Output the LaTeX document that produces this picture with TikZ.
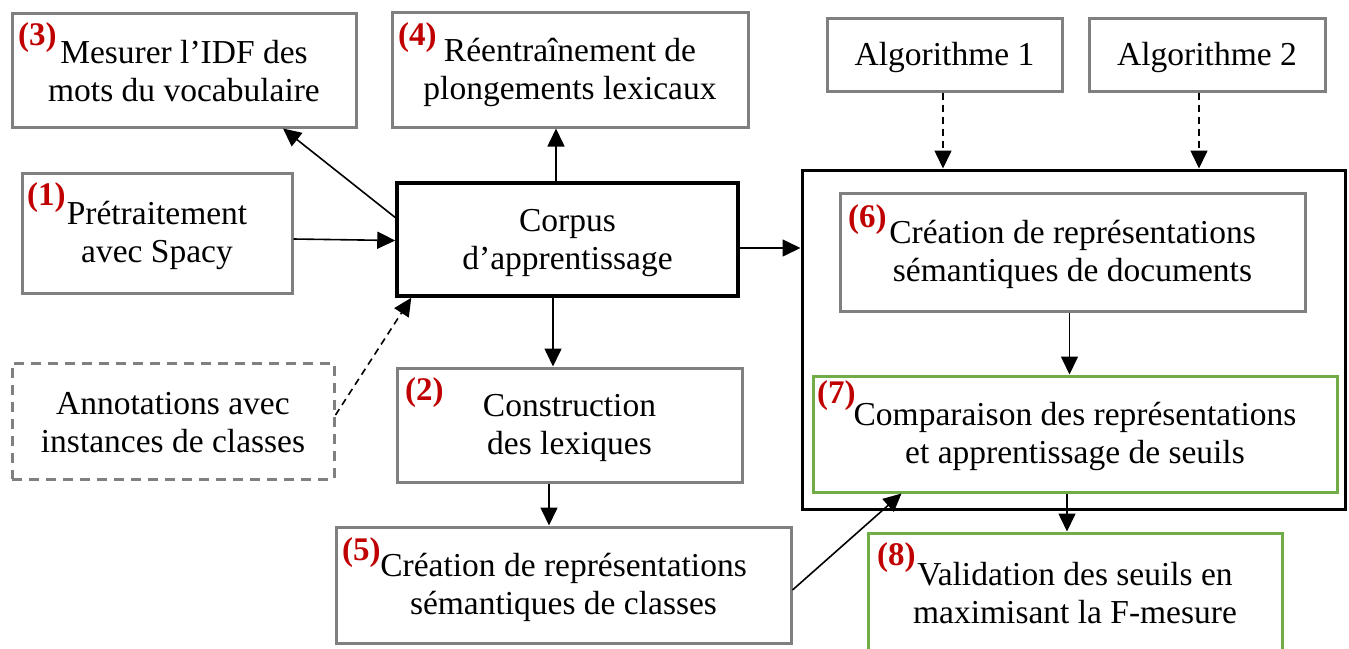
\documentclass[tikz,border=0pt]{standalone}
\usepackage{fontspec}
\setmainfont{Liberation Serif}
\usetikzlibrary{arrows.meta}
\definecolor{boxgray}{HTML}{808080}
\definecolor{labred}{HTML}{C00000}
\definecolor{boxgreen}{HTML}{70AD47}
\newcommand\ls{\rule[-5pt]{0pt}{34pt}}
\begin{document}
\begin{tikzpicture}[x=1pt,y=-1pt,
  box/.style={draw, rectangle, inner sep=0pt, align=center, font=\fontsize{33.5}{38}\selectfont},
  gbox/.style={box, draw=boxgray, line width=3pt},
  kbox/.style={box, draw=black, line width=3.5pt},
  grbox/.style={box, draw=boxgreen, line width=3pt},
  dbox/.style={gbox, dash pattern=on 10pt off 7pt},
  lab/.style={anchor=base west, inner sep=0pt, text=labred, font=\fontsize{33}{33}\selectfont\bfseries},
  arr/.style={-{Triangle[length=18pt,width=17pt]}, line width=1.6pt},
  darr/.style={arr, dash pattern=on 7pt off 5pt},
]
\useasboundingbox (0,0) rectangle (1349,648);
\clip (0,0) rectangle (1349,648);
\fill[white] (0,0) rectangle (1349,648);

% outer frame
\node[kbox, line width=3pt, minimum width=543pt, minimum height=339pt] (outer) at (1073.5,339.5) {};

% boxes
\node[gbox, minimum width=344pt, minimum height=114pt] (n3) at (184,70) {\ls Mesurer l’IDF des\\\ls mots du vocabulaire};
\node[gbox, minimum width=356pt, minimum height=115pt] (n4) at (570,69.5) {\ls Réentraînement de\\\ls plongements lexicaux};
\node[gbox, minimum width=235pt, minimum height=73pt] (alg1) at (944.5,54.5) {\ls Algorithme 1};
\node[gbox, minimum width=236pt, minimum height=73pt] (alg2) at (1207,54.5) {\ls Algorithme 2};
\node[gbox, minimum width=270pt, minimum height=120pt] (n1) at (157,233) {\ls Prétraitement\\\ls avec Spacy};
\node[kbox, minimum width=341pt, minimum height=113pt] (corpus) at (567.5,239.5) {\ls Corpus\\\ls d’apprentissage};
\node[gbox, minimum width=465pt, minimum height=118pt] (n6) at (1072.5,252) {\ls Création de représentations\\\ls sémantiques de documents};
\node[grbox, minimum width=524pt, minimum height=116pt] (n7) at (1075,434) {\ls Comparaison des représentations\\\ls et apprentissage de seuils};
\node[dbox, minimum width=322pt, minimum height=116pt] (ann) at (173,421) {\ls Annotations avec\\\ls instances de classes};
\node[gbox, minimum width=345pt, minimum height=114pt] (n2) at (569.5,425) {\ls Construction\\\ls des lexiques};
\node[gbox, minimum width=455pt, minimum height=116pt] (n5) at (563.5,585) {\ls Création de représentations\\\ls sémantiques de classes};
\node[grbox, minimum width=414pt, minimum height=118pt] (n8) at (1075,592) {\ls Validation des seuils en\\\ls maximisant la F-mesure};

% red step labels
\node[lab] (l3) at (18,45) {(3)};
\node[lab] (l1) at (27,205) {(1)};
\node[lab] (l4) at (398,45) {(4)};
\node[lab] (l2) at (405,400) {(2)};
\node[lab] (l5) at (342,560) {(5)};
\node[lab] (l6) at (848,227) {(6)};
\node[lab] (l7) at (817,403) {(7)};
\node[lab] (l8) at (877,565) {(8)};

% connectors
\draw[arr] ([yshift=-6pt]n1.east) -- ([yshift=-1pt]corpus.west);
\draw[arr] ([yshift=22pt]corpus.west) -- ([xshift=99pt]n3.south);
\draw[arr] ([xshift=-11.5pt]corpus.north) -- ([xshift=-11.5pt]corpus.north |- n4.south);
\draw[darr] ([yshift=6pt]ann.east) -- ([xshift=16pt]corpus.south west);
\draw[arr] ([xshift=-14.5pt]corpus.south) -- ([xshift=-14.5pt]corpus.south |- n2.north);
\draw[arr] ([xshift=-20.5pt]n2.south) -- ([xshift=-20.5pt]n2.south |- n5.north);
\draw[arr] ([yshift=-8.5pt]corpus.east) -- ([yshift=-8.5pt]corpus.east -| outer.west);
\draw[darr] ([xshift=-1.5pt]alg1.south) -- ([xshift=-1.5pt]alg1.south |- outer.north);
\draw[darr] ([xshift=-8pt]alg2.south) -- ([xshift=-8pt]alg2.south |- outer.north);
\draw[arr] ([xshift=-3pt]n6.south) -- ([xshift=-3pt]n6.south |- n7.north);
\draw[arr] ([xshift=-8pt]n7.south) -- ([xshift=-8pt]n7.south |- n8.north);
\draw[arr] ([yshift=-5pt]n5.east) -- ([xshift=90pt]n7.south west);
\end{tikzpicture}
\end{document}
